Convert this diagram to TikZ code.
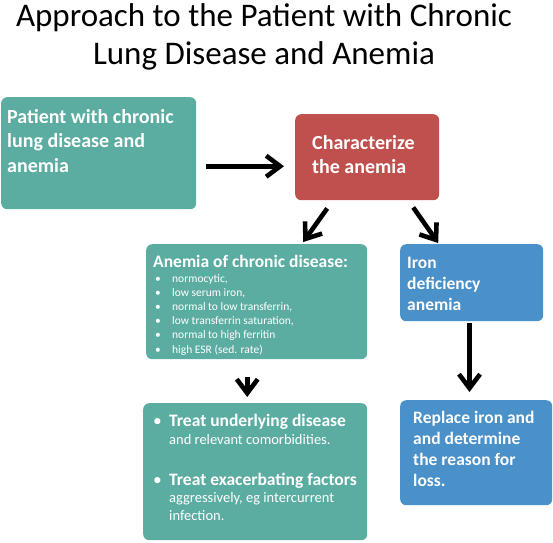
\documentclass[tikz,border=0pt]{standalone}
\usepackage{fontspec}
\setmainfont{Carlito}
\usetikzlibrary{arrows.meta}
\definecolor{acdteal}{HTML}{5BADA2}
\definecolor{charred}{HTML}{C0504D}
\definecolor{ironblue}{HTML}{4A90C9}
\begin{document}
\begin{tikzpicture}[x=1pt,y=-1pt,
  box/.style={draw=none, rounded corners=6pt, inner sep=0pt, anchor=north west},
  lbl/.style={anchor=base west, inner sep=0pt, align=left, text=white},
  arr/.style={line width=4.6pt, -{Straight Barb[length=14pt,width=21pt]}}]
\useasboundingbox (0,0) rectangle (553,542);
\fill[white] (0,0) rectangle (553,542);
% title (anchor = baseline of last line)
\node[anchor=base, inner sep=0pt, align=center, font=\fontsize{33}{38}\selectfont] (title) at (264,64)
  {Approach to the Patient with Chronic\\Lung Disease and Anemia};
% boxes
\node[box, fill=acdteal, minimum width=195pt, minimum height=112pt] (b1) at (1,97) {};
\node[box, fill=charred, minimum width=144pt, minimum height=86pt] (red) at (295,114) {};
\node[box, fill=acdteal, minimum width=221pt, minimum height=115pt] (acd) at (146,244) {};
\node[box, fill=ironblue, minimum width=143pt, minimum height=77pt] (iron) at (400,244) {};
\node[box, fill=acdteal, minimum width=224pt, minimum height=137pt] (treat) at (143,403) {};
\node[box, fill=ironblue, minimum width=152pt, minimum height=105pt] (repl) at (400,400) {};
% texts (anchored at the baseline of their last line)
\node[lbl, font=\fontsize{20}{24.5}\selectfont\bfseries] (t1) at (7,172)
  {Patient with chronic\\lung disease and\\anemia};
\node[lbl, font=\fontsize{20}{24}\selectfont\bfseries] (tred) at (312,173)
  {Characterize\\the anemia};
\node[lbl, font=\fontsize{17.5}{21}\selectfont\bfseries] (tacd) at (153,267)
  {Anemia of chronic disease:};
\node[lbl, font=\fontsize{11.5}{14.2}\selectfont] (tlist) at (155,353)
  {\makebox[17pt][l]{•}normocytic,\\
   \makebox[17pt][l]{•}low serum iron,\\
   \makebox[17pt][l]{•}normal to low transferrin,\\
   \makebox[17pt][l]{•}low transferrin saturation,\\
   \makebox[17pt][l]{•}normal to high ferritin\\
   \makebox[17pt][l]{•}high ESR (sed. rate)};
\node[lbl, font=\fontsize{17.5}{21}\selectfont\bfseries] (tiron) at (407,310)
  {Iron\\deficiency\\anemia};
\node[lbl, font=\fontsize{17.5}{21}\selectfont\bfseries] (trepl) at (413,486)
  {Replace iron and\\and determine\\the reason for\\loss.};
\node[lbl, font=\fontsize{14.5}{17.5}\selectfont] (ttr1) at (153,444)
  {\makebox[16pt][l]{\fontsize{17.5}{17.5}\selectfont•}{\fontsize{17.5}{17.5}\selectfont\bfseries Treat underlying disease}\\
   \hspace*{16pt}and relevant comorbidities.};
\node[lbl, font=\fontsize{14.5}{17.5}\selectfont] (ttr2) at (153,520)
  {\makebox[16pt][l]{\fontsize{17.5}{17.5}\selectfont•}{\fontsize{17.5}{17.5}\selectfont\bfseries Treat exacerbating factors}\\
   \hspace*{16pt}aggressively, eg intercurrent\\
   \hspace*{16pt}infection.};
% arrows
\draw[arr] ([shift={(10,13)}]b1.east) -- ([shift={(-11,9)}]red.west);
\draw[arr] ([shift={(-40,8)}]red.south) -- ([shift={(46.5,-2)}]acd.north);
\draw[arr] ([shift={(46,7)}]red.south) -- ([shift={(-33.5,-1)}]iron.north);
\draw[arr] ([shift={(-2.2,2)}]iron.south) -- ([shift={(-6.7,-8)}]repl.north);
\draw[arr] ([shift={(-9.5,18)}]acd.south) -- ([shift={(-8,-6)}]treat.north);
\end{tikzpicture}
\end{document}
